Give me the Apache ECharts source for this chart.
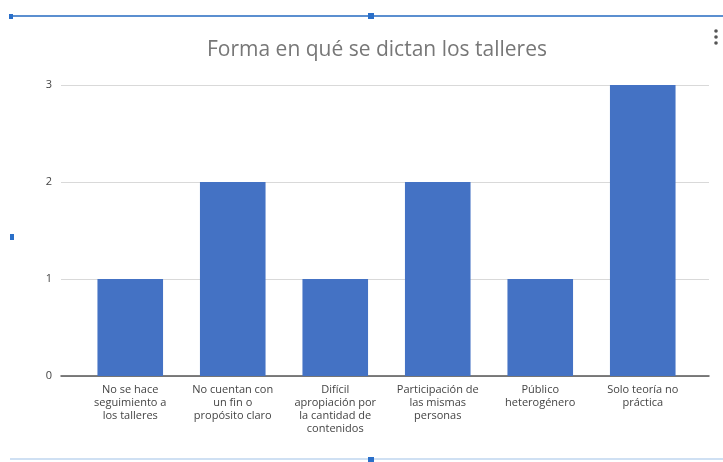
<!DOCTYPE html>
<html>
<head>
<meta charset="utf-8">
<script src="https://cdn.jsdelivr.net/npm/echarts@6/dist/echarts.min.js"></script>
<style>html,body{margin:0;padding:0;background:#fff}#c{width:723px;height:462px}</style>
</head>
<body>
<div id="c"></div>
<script>
var categories = [
  "No se hace\nseguimiento a\nlos talleres",
  "No cuentan con\nun fin o\npropósito claro",
  "Difícil\napropiación por\nla cantidad de\ncontenidos",
  "Participación de\nlas mismas\npersonas",
  "Público\nheterogénero",
  "Solo teoría no\npráctica"
];
var values = [1, 2, 1, 2, 1, 3];
var yTicks = [0, 1, 2, 3];
var titleText = "Forma en qué se dictan los talleres";

var chart = echarts.init(document.getElementById('c'));
chart.setOption({
  animation: false,
  backgroundColor: '#fff',
  title: {
    text: titleText, left: 202, top: 35,
    textStyle: {fontFamily: 'Open Sans', fontSize: 21, fontWeight: 'normal', color: '#777'}
  },
  grid: [
    {left: 79, right: 29, top: 85, bottom: 86},
    {left: 61, right: 14, top: 85, bottom: 86}
  ],
  xAxis: [
    {type: 'category', gridIndex: 0, data: categories,
     axisLine: {show: false}, axisTick: {show: false},
     axisLabel: {interval: 0, margin: 7, fontFamily: 'Open Sans', fontSize: 11, color: '#444', lineHeight: 13}},
    {type: 'value', gridIndex: 1, min: 0, max: 1, show: true,
     axisLine: {show: true, lineStyle: {color: '#555', width: 1.5}},
     axisTick: {show: false}, axisLabel: {show: false}, splitLine: {show: false}}
  ],
  yAxis: [
    {type: 'value', gridIndex: 0, min: 0, max: 3, interval: 1, show: false},
    {type: 'value', gridIndex: 1, min: yTicks[0], max: yTicks[yTicks.length-1], interval: 1,
     axisLine: {show: false}, axisTick: {show: false},
     axisLabel: {margin: 9, fontFamily: 'Open Sans', fontSize: 11, color: '#444',
       formatter: function(v){ return yTicks.indexOf(v) >= 0 ? String(v) : ''; }},
     splitLine: {lineStyle: {color: '#d9d9d9', width: 1}}}
  ],
  series: [{
    type: 'bar', xAxisIndex: 0, yAxisIndex: 0, data: values,
    barWidth: '64%', itemStyle: {color: '#4472c4'}
  }],
  graphic: [
    {type: 'line', shape: {x1: 10, y1: 16, x2: 723, y2: 16}, style: {stroke: '#5b8fd0', lineWidth: 2}},
    {type: 'rect', shape: {x: 9, y: 14, width: 4, height: 5}, style: {fill: '#2a6fc9'}},
    {type: 'rect', shape: {x: 368, y: 13, width: 6, height: 6}, style: {fill: '#2a6fc9'}},
    {type: 'rect', shape: {x: 10, y: 234, width: 4, height: 6}, style: {fill: '#2a6fc9'}},
    {type: 'line', shape: {x1: 10, y1: 459, x2: 723, y2: 459}, style: {stroke: '#cfe0f3', lineWidth: 2}},
    {type: 'rect', shape: {x: 368, y: 457, width: 6, height: 5}, style: {fill: '#2a6fc9'}},
    {type: 'circle', shape: {cx: 716, cy: 31, r: 1.8}, style: {fill: '#555'}},
    {type: 'circle', shape: {cx: 716, cy: 37, r: 1.8}, style: {fill: '#555'}},
    {type: 'circle', shape: {cx: 716, cy: 43, r: 1.8}, style: {fill: '#555'}}
  ]
});
</script>
</body>
</html>
